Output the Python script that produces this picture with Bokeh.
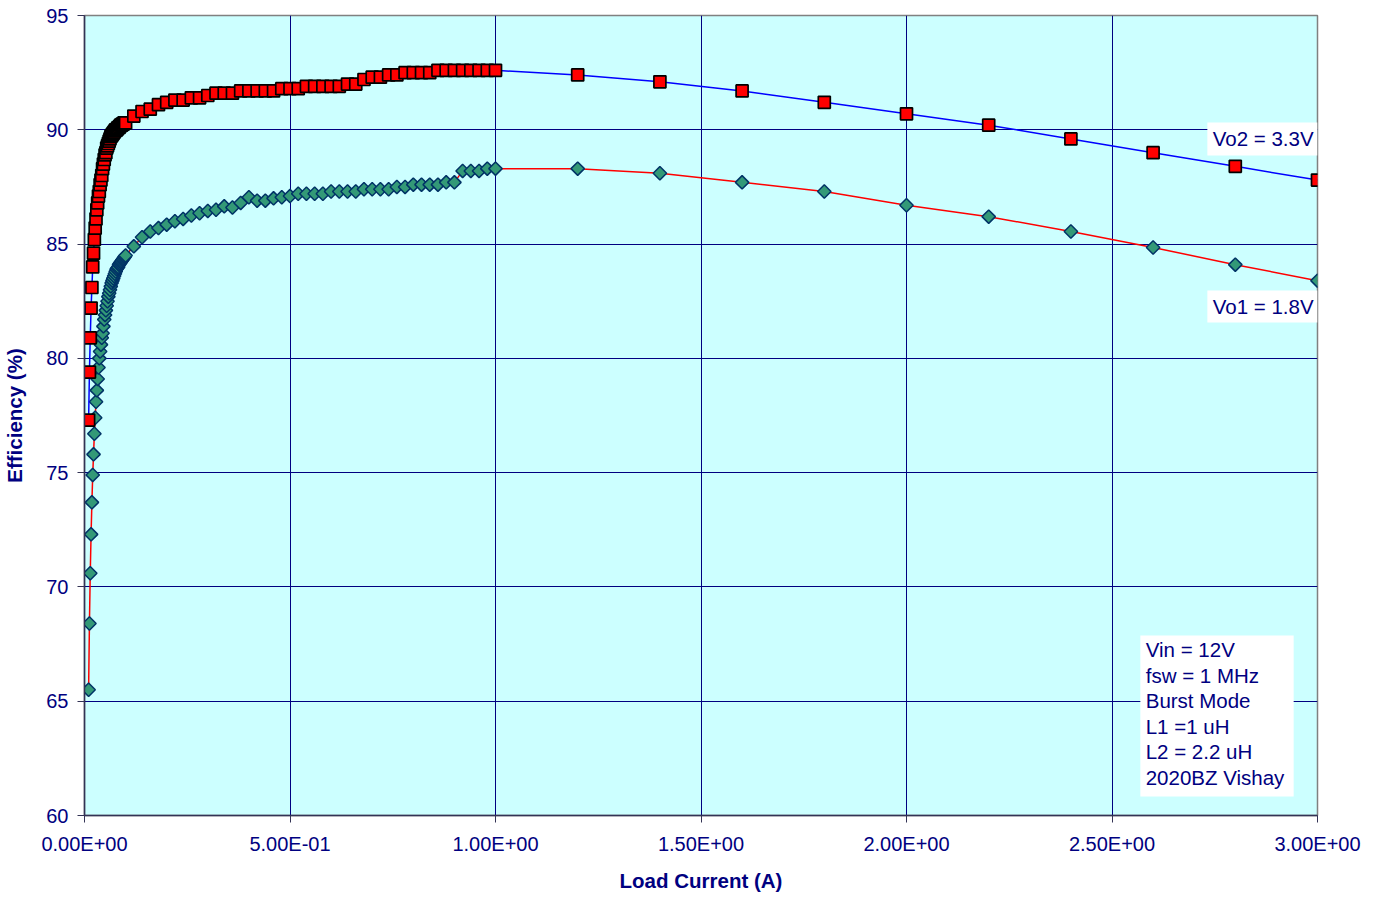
import numpy as np
from bokeh.plotting import figure
from bokeh.models import FixedTicker, Label, BoxAnnotation, Range1d
from bokeh.embed import file_html
from bokeh.resources import INLINE

# ---------------- data ----------------
current_low = [0.010, 0.012, 0.014, 0.016, 0.018, 0.020, 0.022, 0.024, 0.026, 0.028,
               0.030, 0.032, 0.034, 0.036, 0.038, 0.040, 0.042, 0.044, 0.046, 0.048,
               0.050, 0.052, 0.054, 0.056, 0.058, 0.060, 0.062, 0.064, 0.066, 0.068,
               0.070, 0.072, 0.074, 0.076, 0.078, 0.080, 0.082, 0.084, 0.086, 0.088,
               0.090, 0.092, 0.094, 0.096, 0.098, 0.100]
current_mid = [0.12, 0.14, 0.16, 0.18, 0.20, 0.22, 0.24, 0.26, 0.28, 0.30,
               0.32, 0.34, 0.36, 0.38, 0.40, 0.42, 0.44, 0.46, 0.48, 0.50,
               0.52, 0.54, 0.56, 0.58, 0.60, 0.62, 0.64, 0.66, 0.68, 0.70,
               0.72, 0.74, 0.76, 0.78, 0.80, 0.82, 0.84, 0.86, 0.88, 0.90,
               0.92, 0.94, 0.96, 0.98, 1.00]
current_high = [1.2, 1.4, 1.6, 1.8, 2.0, 2.2, 2.4, 2.6, 2.8, 3.0]

vo2_low = [77.3, 79.4, 80.9, 82.2, 83.1, 84.0, 84.6, 85.2, 85.7, 86.1,
           86.5, 86.8, 87.1, 87.3, 87.6, 87.8, 88.0, 88.3, 88.5, 88.7,
           88.9, 89.0, 89.2, 89.3, 89.4, 89.5, 89.6, 89.7, 89.75, 89.8,
           89.85, 89.9, 89.95, 90.0, 90.0, 90.05, 90.1, 90.1, 90.15, 90.2,
           90.2, 90.25, 90.25, 90.3, 90.3, 90.3]
vo2_mid = [90.6, 90.8, 90.9, 91.1, 91.2, 91.3, 91.3, 91.4, 91.4, 91.5,
           91.6, 91.6, 91.6, 91.7, 91.7, 91.7, 91.7, 91.7, 91.8, 91.8,
           91.8, 91.9, 91.9, 91.9, 91.9, 91.9, 92.0, 92.0, 92.2, 92.3,
           92.3, 92.4, 92.4, 92.5, 92.5, 92.5, 92.5, 92.6, 92.6, 92.6,
           92.6, 92.6, 92.6, 92.6, 92.6]
vo2_high = [92.4, 92.1, 91.7, 91.2, 90.7, 90.2, 89.6, 89.0, 88.4, 87.8]

vo1_low = [65.5, 68.4, 70.6, 72.3, 73.7, 74.9, 75.8, 76.7, 77.4, 78.1,
           78.6, 79.1, 79.6, 80.0, 80.3, 80.6, 80.9, 81.1, 81.4, 81.7,
           81.9, 82.1, 82.3, 82.5, 82.7, 82.85, 83.0, 83.15, 83.3, 83.4,
           83.5, 83.6, 83.7, 83.8, 83.9, 83.95, 84.0, 84.1, 84.15, 84.2,
           84.25, 84.3, 84.35, 84.4, 84.45, 84.5]
vo1_mid = [84.9, 85.3, 85.55, 85.7, 85.85, 86.0, 86.1, 86.25, 86.35, 86.45,
           86.5, 86.65, 86.6, 86.8, 87.05, 86.9, 86.9, 87.0, 87.05, 87.1,
           87.2, 87.2, 87.2, 87.2, 87.3, 87.3, 87.3, 87.3, 87.4, 87.4,
           87.4, 87.4, 87.5, 87.5, 87.6, 87.6, 87.6, 87.6, 87.7, 87.7,
           88.2, 88.2, 88.2, 88.3, 88.3]
vo1_high = [88.3, 88.1, 87.7, 87.3, 86.7, 86.2, 85.55, 84.85, 84.1, 83.4]

x_ticks = [0.0, 0.5, 1.0, 1.5, 2.0, 2.5, 3.0]
x_tick_labels = ["0.00E+00", "5.00E-01", "1.00E+00", "1.50E+00", "2.00E+00", "2.50E+00", "3.00E+00"]
y_ticks = [60, 65, 70, 75, 80, 85, 90, 95]

series_labels = ["Vo2 = 3.3V", "Vo1 = 1.8V"]
note_lines = ["Vin = 12V", "fsw = 1 MHz", "Burst Mode", "L1 =1 uH", "L2 = 2.2 uH", "2020BZ Vishay"]

current = current_low + current_mid + current_high
vo2 = vo2_low + vo2_mid + vo2_high
vo1 = vo1_low + vo1_mid + vo1_high

# ---------------- figure ----------------
NAVY = "#000080"
FONT = "Liberation Sans"

p = figure(frame_width=1233, frame_height=800,
           min_border_left=77, min_border_top=15, min_border_right=50, min_border_bottom=66,
           x_range=Range1d(0, 3.0), y_range=Range1d(60, 95),
           output_backend="svg", toolbar_location=None,
           background_fill_color="#CCFFFF", border_fill_color="white")

p.outline_line_color = "#808080"
p.outline_line_width = 1.5

for g in (p.xgrid, p.ygrid):
    g.grid_line_color = NAVY
    g.grid_line_width = 1

p.xaxis.ticker = FixedTicker(ticks=x_ticks)
p.xaxis.major_label_overrides = {t: l for t, l in zip(x_ticks, x_tick_labels)}
p.yaxis.ticker = FixedTicker(ticks=y_ticks)

for ax in (p.xaxis[0], p.yaxis[0]):
    ax.axis_line_color = "#333355"
    ax.axis_line_width = 1.5
    ax.major_tick_line_color = "#333355"
    ax.major_tick_out = 7
    ax.major_tick_in = 0
    ax.minor_tick_line_color = None
    ax.major_label_text_color = NAVY
    ax.major_label_text_font = FONT
    ax.major_label_text_font_size = "20px"
    ax.axis_label_text_color = NAVY
    ax.axis_label_text_font = FONT
    ax.axis_label_text_font_size = "20.5px"
    ax.axis_label_text_font_style = "bold"

p.xaxis.axis_label = "Load Current (A)"
p.yaxis.axis_label = "Efficiency (%)"
p.xaxis.major_label_standoff = 10
p.xaxis.axis_label_standoff = 11
p.yaxis.major_label_standoff = 9
p.yaxis.axis_label_standoff = 17

# Vo1 (1.8V)
p.line(current, vo1, line_color="#FF0000", line_width=1.5)
p.scatter(current, vo1, marker="square", angle=np.pi / 4, size=9.5,
          fill_color="#339977", line_color="#003366", line_width=1.5)

# Vo2 (3.3V)
p.line(current, vo2, line_color="#0000FF", line_width=1.5)
p.scatter(current, vo2, marker="square", size=12,
          fill_color="#FF0000", line_color="#000000", line_width=1.7)

# series labels
p.add_layout(BoxAnnotation(left=2.732, right=3.0, top=90.32, bottom=88.87,
                           fill_color="white", fill_alpha=1, line_alpha=0))
p.add_layout(BoxAnnotation(left=2.732, right=3.0, top=82.97, bottom=81.57,
                           fill_color="white", fill_alpha=1, line_alpha=0))
p.add_layout(Label(x=2.745, y=89.6, text=series_labels[0], text_baseline="middle",
                   text_align="left", text_color=NAVY, text_font=FONT, text_font_size="20.5px"))
p.add_layout(Label(x=2.745, y=82.27, text=series_labels[1], text_baseline="middle",
                   text_align="left", text_color=NAVY, text_font=FONT, text_font_size="20.5px"))

# condition notes box
p.add_layout(BoxAnnotation(left=2.569, right=2.942, top=67.875, bottom=60.83,
                           fill_color="white", fill_alpha=1, line_alpha=0))
note_y = [67.26, 66.13, 65.03, 63.89, 62.80, 61.66]
for txt, yy in zip(note_lines, note_y):
    p.add_layout(Label(x=2.582, y=yy, text=txt, text_baseline="middle",
                       text_align="left", text_color=NAVY, text_font=FONT, text_font_size="20.5px"))

open("out.html", "w").write(file_html(p, INLINE))
